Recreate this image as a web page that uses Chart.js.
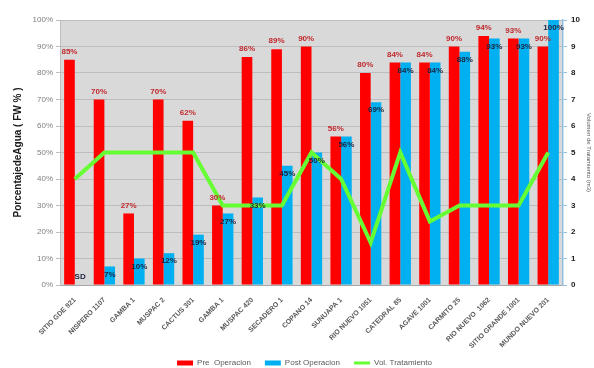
<!DOCTYPE html>
<html>
<head>
<meta charset="utf-8">
<script src="https://cdn.jsdelivr.net/npm/chart.js@4.4.1/dist/chart.umd.min.js"></script>
<style>
html,body{margin:0;padding:0;background:#fff;}
#wrap{width:594px;height:368px;position:relative;}
</style>
</head>
<body>
<div id="wrap"><canvas id="c" width="594" height="368"></canvas></div>
<script>
const categories = ["SITIO GDE 921","NISPERO 1107","GAMBA 1","MUSPAC 2","CACTUS 301","GAMBA 1","MUSPAC 420","SECADERO 1","COPANO 14","SUNUAPA 1","RIO NUEVO 1051","CATEDRAL 85","AGAVE 1001","CARMITO 25","RIO NUEVO  1062","SITIO GRANDE 1001","MUNDO NUEVO 201"];
const preOperacion = [85,70,27,70,62,30,86,89,90,56,80,84,84,90,94,93,90];
const postOperacion = [null,7,10,12,19,27,33,45,50,56,69,84,84,88,93,93,100];
const postLabels = ["SD","7%","10%","12%","19%","27%","33%","45%","50%","56%","69%","84%","84%","88%","93%","93%","100%"];
const volTratamiento = [4,5,5,5,5,3,3,3,5,4,1.6,5,2.4,3,3,3,5];
const leftTicks = [0,10,20,30,40,50,60,70,80,90,100];
const rightTicks = [0,1,2,3,4,5,6,7,8,9,10];

const FONT = "'Liberation Sans', Arial, sans-serif";

const bgPlugin = {
  id: 'plotBg',
  beforeDraw(chart) {
    const a = chart.chartArea, ctx = chart.ctx;
    ctx.save();
    ctx.fillStyle = '#d9d9d9';
    ctx.fillRect(a.left, a.top, a.right - a.left, a.bottom - a.top);
    ctx.restore();
  }
};

const labelPlugin = {
  id: 'valueLabels',
  afterDatasetsDraw(chart) {
    const ctx = chart.ctx;
    const yScale = chart.scales.y;
    const preMeta = chart.getDatasetMeta(0);
    const postMeta = chart.getDatasetMeta(1);
    ctx.save();
    ctx.textAlign = 'center';
    ctx.textBaseline = 'middle';
    ctx.font = "bold 8px " + FONT;
    ctx.fillStyle = '#c0282d';
    preMeta.data.forEach((el, i) => {
      ctx.fillText(preOperacion[i] + '%', el.x, el.y - 8);
    });
    ctx.fillStyle = '#1c2340';
    postMeta.data.forEach((el, i) => {
      const v = postOperacion[i];
      const y = (v === null) ? yScale.getPixelForValue(0) - 8 : el.y + 8;
      ctx.fillText(postLabels[i], el.x, y);
    });
    ctx.restore();
  }
};

// legend drawn below the x axis labels
const legendPlugin = {
  id: 'bottomLegend',
  afterDraw(chart) {
    const ctx = chart.ctx;
    const ds = chart.data.datasets;
    ctx.save();
    ctx.font = "8px " + FONT;
    ctx.textBaseline = 'middle';
    ctx.textAlign = 'left';
    const sw = 16, gapT = 4, gapI = 14;
    const widths = ds.map(d => ctx.measureText(d.label).width);
    const total = widths.reduce((s, w) => s + sw + gapT + w, 0) + gapI * (ds.length - 1);
    const cx = (chart.chartArea.left + chart.chartArea.right) / 2 - 7;
    let x = cx - total / 2;
    const y = chart.height - 5;
    ds.forEach((d, i) => {
      if (d.type === 'line') {
        ctx.fillStyle = d.borderColor;
        ctx.fillRect(x, y - 1.5, sw, 3);
      } else {
        ctx.fillStyle = d.backgroundColor;
        ctx.fillRect(x, y - 2.5, sw, 5);
      }
      ctx.fillStyle = '#595959';
      ctx.fillText(d.label, x + sw + gapT, y);
      x += sw + gapT + widths[i] + gapI;
    });
    ctx.restore();
  }
};

new Chart(document.getElementById('c'), {
  type: 'bar',
  data: {
    labels: categories,
    datasets: [
      {
        label: 'Pre  Operacion',
        data: preOperacion,
        backgroundColor: '#ff0000',
        borderWidth: 0,
        yAxisID: 'y',
        order: 1,
        categoryPercentage: 0.72,
        barPercentage: 1.0
      },
      {
        label: 'Post Operacion',
        data: postOperacion,
        backgroundColor: '#00b0f0',
        borderWidth: 0,
        yAxisID: 'y',
        order: 1,
        categoryPercentage: 0.72,
        barPercentage: 1.0
      },
      {
        type: 'line',
        label: 'Vol. Tratamiento',
        data: volTratamiento,
        borderColor: '#66ff33',
        backgroundColor: '#66ff33',
        borderWidth: 4,
        pointRadius: 0,
        tension: 0,
        yAxisID: 'y2',
        order: 0
      }
    ]
  },
  options: {
    responsive: false,
    animation: false,
    devicePixelRatio: 1,
    layout: { padding: { top: 20, left: 0, right: 0, bottom: 0 } },
    plugins: {
      legend: { display: false },
      tooltip: { enabled: false }
    },
    scales: {
      x: {
        grid: { display: false },
        border: { color: '#a6a6a6' },
        ticks: {
          minRotation: 45, maxRotation: 45, autoSkip: false,
          color: '#595959',
          font: { family: FONT, size: 7, weight: 'bold' }
        },
        afterFit(s) { s.height = 83; }
      },
      y: {
        position: 'left',
        min: 0, max: 100,
        afterBuildTicks(s) { s.ticks = leftTicks.map(v => ({ value: v })); },
        ticks: {
          color: '#7f7f7f',
          font: { family: FONT, size: 8 },
          padding: 3,
          callback: v => v + '%'
        },
        grid: { color: '#bdbdbd', tickLength: 4 },
        border: { color: '#bdbdbd' },
        title: {
          display: true,
          text: 'PorcentajedeAgua ( FW % )',
          color: '#1a1a1a',
          font: { family: FONT, size: 10, weight: 'bold' },
          padding: { top: 12, bottom: 2 }
        },
        afterFit(s) { s.width = 60; }
      },
      y2: {
        position: 'right',
        min: 0, max: 10,
        afterBuildTicks(s) { s.ticks = rightTicks.map(v => ({ value: v })); },
        ticks: {
          color: '#1a1a1a',
          font: { family: FONT, size: 8, weight: 'bold' },
          padding: 4
        },
        grid: { drawOnChartArea: false, drawTicks: true, tickLength: 4, color: '#8fbfe0' },
        border: { color: '#8fbfe0', width: 1.5 },
        title: {
          display: true,
          text: 'Volumen de Tratamiento (m3)',
          color: '#595959',
          font: { family: FONT, size: 6 },
          padding: { top: 2, bottom: 0 }
        },
        afterFit(s) { s.width = 31; }
      }
    }
  },
  plugins: [bgPlugin, labelPlugin, legendPlugin]
});
</script>
</body>
</html>
